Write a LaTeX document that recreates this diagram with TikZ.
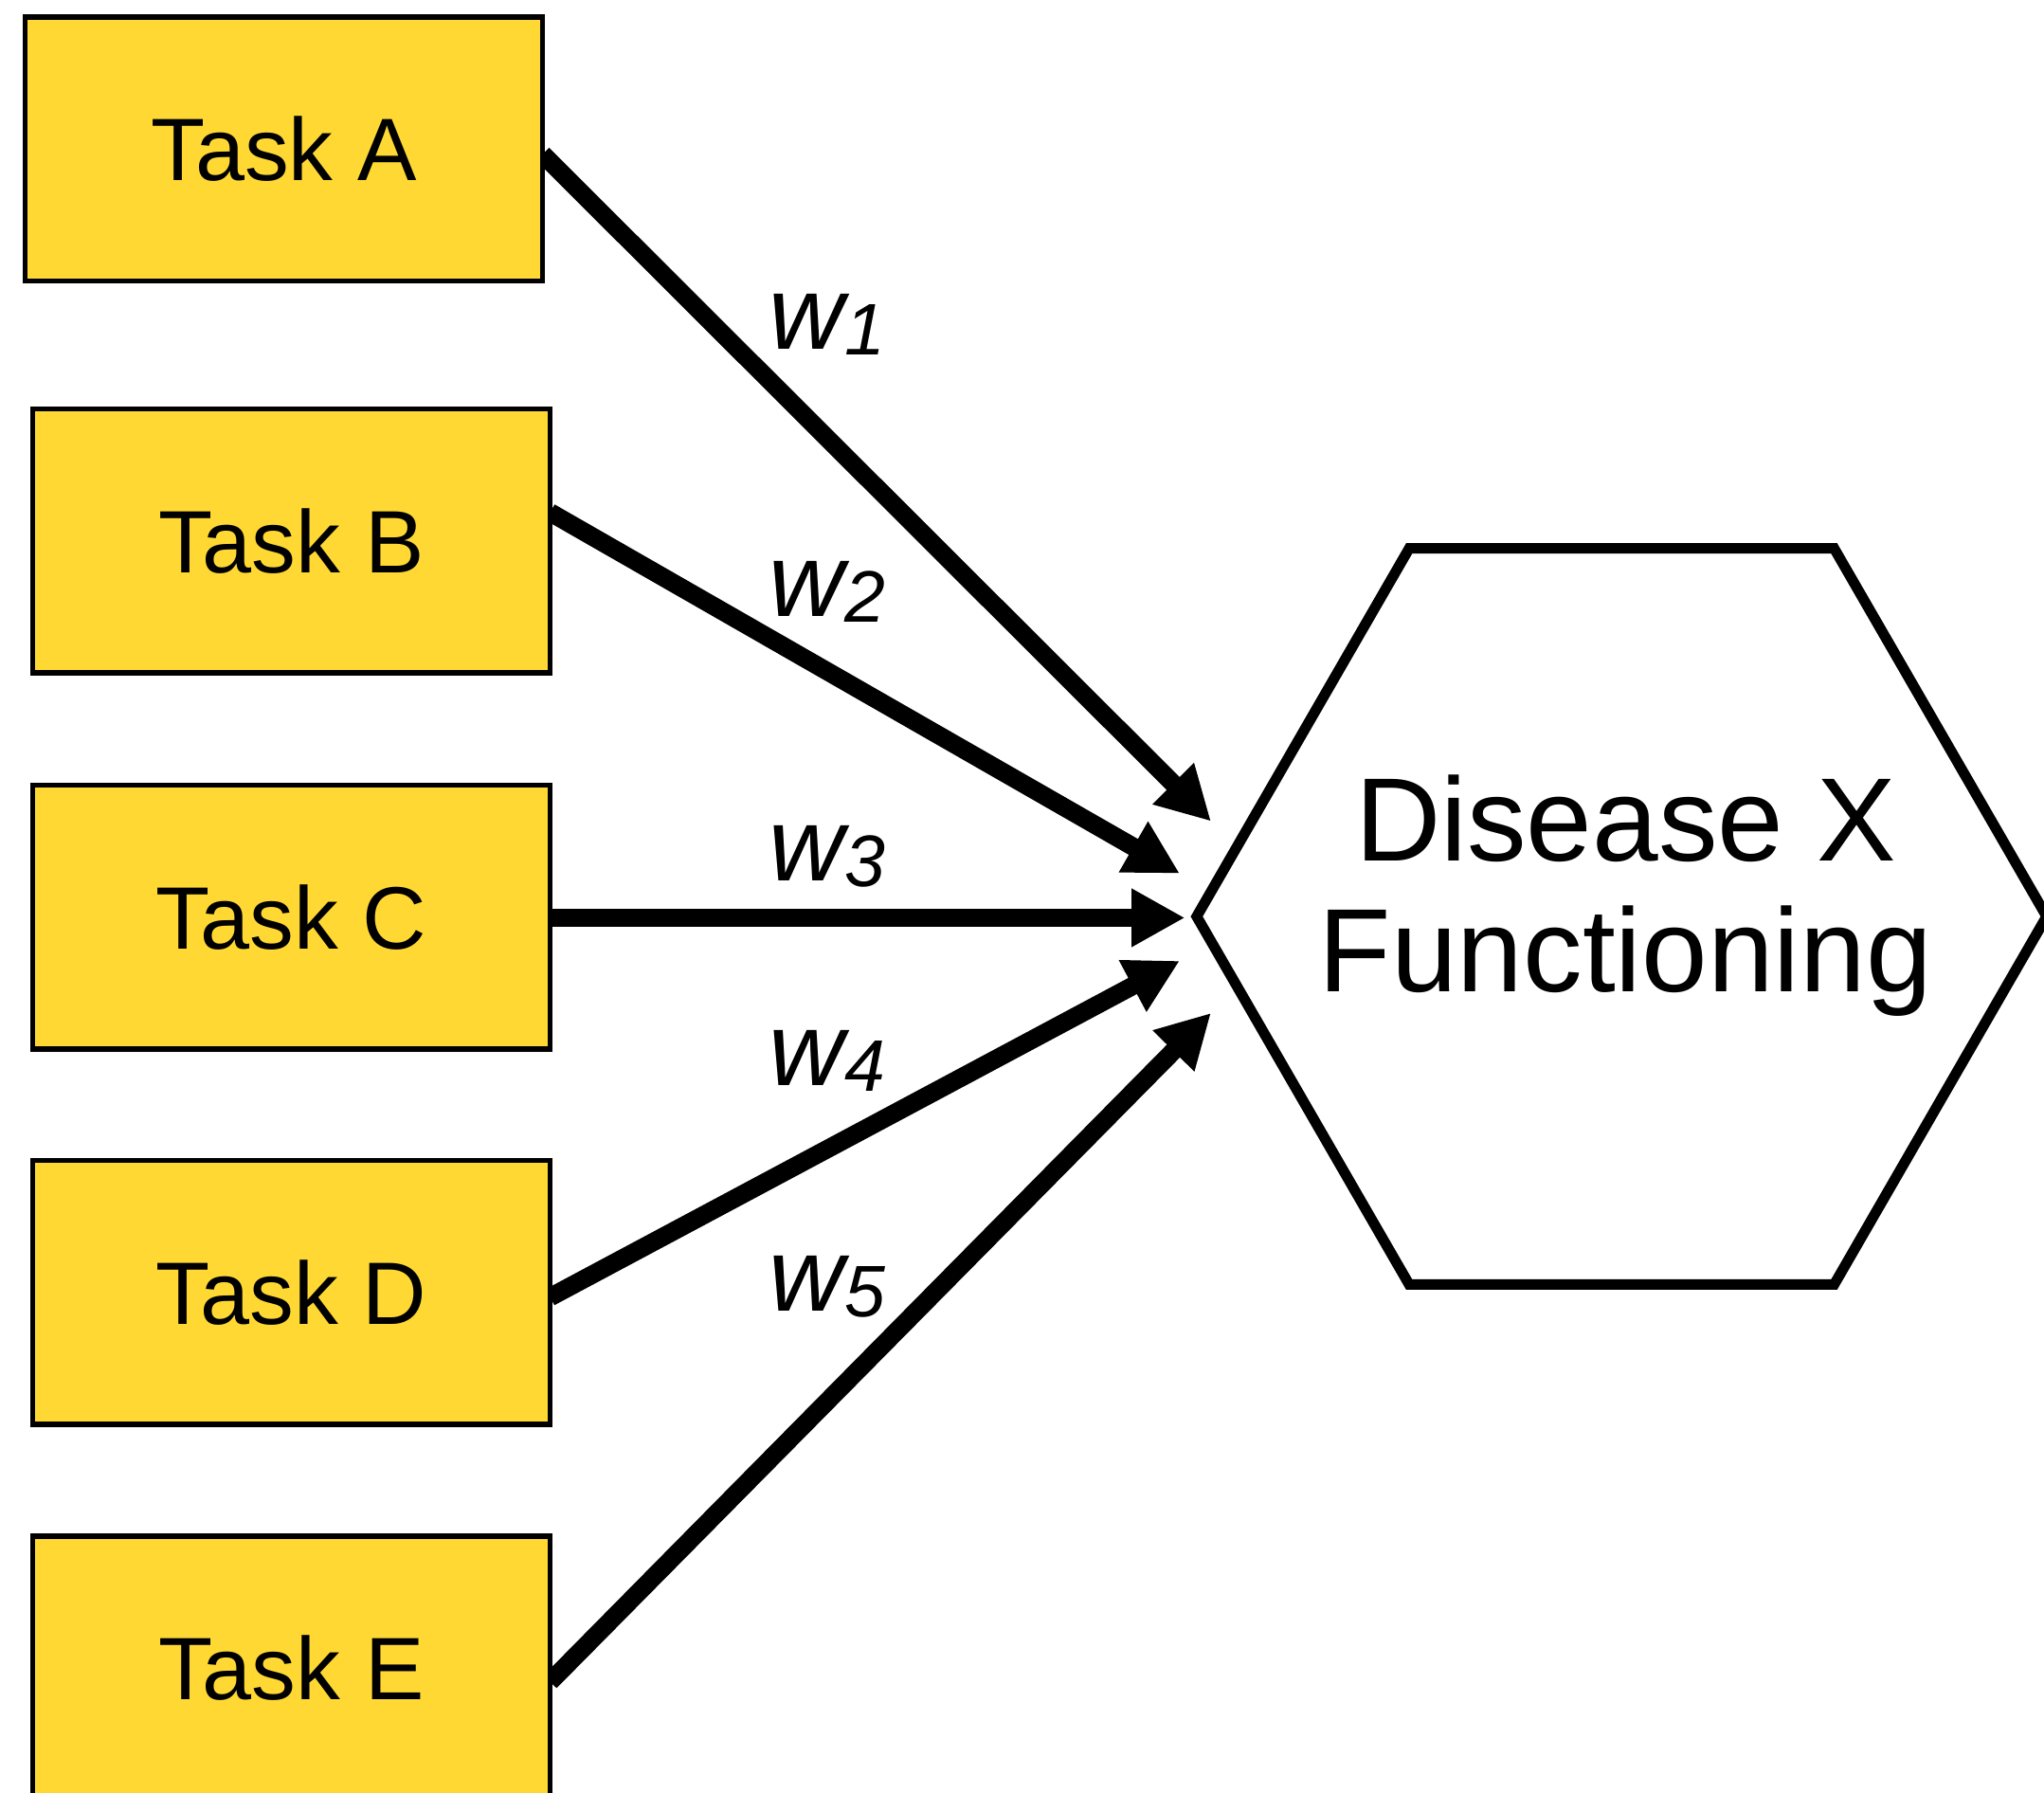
\documentclass[tikz,border=0pt]{standalone}
\usepackage{fontspec}
\setmainfont{Liberation Sans}
\usetikzlibrary{arrows.meta,shapes.geometric,backgrounds}
\definecolor{taskyellow}{RGB}{255,216,51}
% weight label: italic w with a lowered, smaller italic index
\newcommand{\wlabel}[1]{{\fontsize{80}{80}\selectfont\itshape w\raisebox{-4pt}{\fontsize{56}{56}\selectfont #1}}}

\begin{document}
\begin{tikzpicture}[x=1pt,y=-1pt,
  taskbox/.style={draw=black, line width=4pt, fill=taskyellow,
    minimum width=397pt, minimum height=202.5pt, inner sep=0pt, outer sep=0pt,
    font=\fontsize{68}{80}\selectfont},
  hexshape/.style={draw=black, line width=8pt, regular polygon, regular polygon sides=6,
    minimum size=652pt, inner sep=0pt, outer sep=0pt},
  hextext/.style={align=center, inner sep=0pt, font=\fontsize{91}{100}\selectfont},
  weight/.style={anchor=base west, inner sep=0pt},
  link/.style={line width=14pt, -{Triangle[length=41pt,width=42pt]}}]
\useasboundingbox (0,0) rectangle (1568,1375);

% task boxes
\node[taskbox] (A) at (217.75,114.25) {Task A};
\node[taskbox] (B) at (223.5,415) {Task B};
\node[taskbox] (C) at (223.5,703.5) {Task C};
\node[taskbox] (D) at (223.5,991.5) {Task D};
\node[taskbox] (E) at (223.5,1279.5) {Task E};

% outcome hexagon
\node[hexshape] (hex) at (1244,703) {};
\node[hextext] (outcome) at (1247,687) {Disease X\\Functioning};

% arrow tips just left of the hexagon
\coordinate (tipA) at (929,630);
\coordinate (tipB) at (905,670);
\coordinate (tipC) at (909,704);
\coordinate (tipD) at (905,737);
\coordinate (tipE) at (929,777);

% weighted links, behind the boxes so their ends sit flush with the box edges
\begin{scope}[on background layer]
\draw[link] ([yshift=-4pt]A.east) -- (tipA);
\draw[link] ([yshift=22pt]B.east) -- (tipB);
\draw[link] ([yshift=-0.5pt]C.east) -- (tipC);
\draw[link] ([yshift=-3.5pt]D.east) -- (tipD);
\draw[link] ([yshift=-10.5pt]E.east) -- (tipE);
\end{scope}

% weight labels
\node[weight] (w1) at (590,268) {\wlabel{1}};
\node[weight] (w2) at (590,473) {\wlabel{2}};
\node[weight] (w3) at (590,676) {\wlabel{3}};
\node[weight] (w4) at (590,833) {\wlabel{4}};
\node[weight] (w5) at (590,1006) {\wlabel{5}};
\end{tikzpicture}
\end{document}
